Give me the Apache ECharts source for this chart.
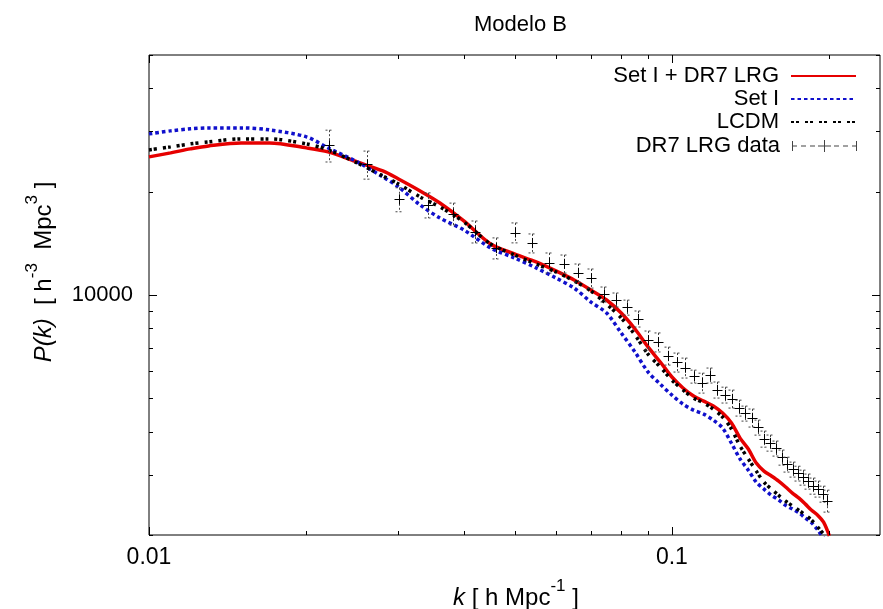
<!DOCTYPE html>
<html><head><meta charset="utf-8">
<script src="https://cdn.jsdelivr.net/npm/echarts@6/dist/echarts.min.js"></script>
<style>html,body{margin:0;padding:0;background:#fff}#c{width:883px;height:609px}</style>
</head><body><div id="c"></div>
<script>
// ---- data ----
const curveK = [0.010,0.011,0.012,0.013,0.015,0.017,0.020,0.022,0.025,0.028,0.030,0.033,0.036,0.040,0.045,0.050,0.055,0.060,0.065,0.070,0.075,0.080,0.085,0.090,0.095,0.100,0.105,0.110,0.115,0.120,0.125,0.130,0.135,0.140,0.145,0.150,0.155,0.160,0.165,0.170,0.175,0.180,0.185,0.190,0.195,0.200];
const setIplusDR7 = [25250,25940,26640,27180,27730,27730,26820,26110,24410,22980,21780,20100,18540,16430,14080,13170,12480,11750,11060,10340,9670,8860,7960,7060,6380,5770,5360,5080,4910,4750,4530,4240,3830,3560,3240,3070,2970,2870,2760,2650,2560,2460,2360,2285,2180,1990];
const setI = [29460,30060,30470,30670,30670,30260,28880,26820,24420,22080,20640,18290,16760,15470,13710,12820,11990,11210,10480,9540,8860,7750,6820,5970,5500,5110,4810,4620,4500,4320,4100,3700,3330,3090,2850,2720,2610,2530,2440,2380,2320,2240,2170,2070,1960,null];
const lcdm = [26460,27000,27550,27920,28490,28490,27550,26460,24250,22220,21060,19300,18050,16320,14080,13080,12310,11670,10990,10270,9410,8570,7650,6730,6170,5650,5290,5010,4850,4650,4410,4070,3630,3330,3070,2850,2720,2610,2510,2430,2360,2285,2210,2110,2015,1930];

const dataK = [0.0221,0.0261,0.0301,0.0341,0.0381,0.0421,0.0461,0.0501,0.0541,0.0581,0.0621,0.0661,0.0701,0.0741,0.0781,0.0821,0.0861,0.0901,0.0941,0.0981,0.1021,0.1061,0.1101,0.1141,0.1181,0.1221,0.1261,0.1301,0.1341,0.1381,0.1421,0.1461,0.1501,0.1541,0.1581,0.1621,0.1661,0.1701,0.1741,0.1781,0.1821,0.1861,0.1901,0.1941,0.1981];
const dataP = [27300,24000,19000,18300,17250,15300,13700,15200,14160,12420,12330,11610,11190,10045,9680,9200,8525,7384,7290,6650,6370,6140,5790,5550,5834,5295,5118,4985,4690,4520,4390,4115,3810,3710,3575,3365,3210,3105,3022,2942,2865,2780,2725,2634,2517];
const dataErr = [2900,2250,1525,1535,1270,1125,965,1015,900,835,745,700,715,505,455,463,458,470,464,400,405,410,252,370,293,285,272,300,250,227,265,207,205,200,180,170,160,156,150,148,145,150,146,141,185];

const xTicks = [0.01,0.02,0.03,0.04,0.05,0.06,0.07,0.08,0.09,0.1,0.2];
const xMajorTicks = [0.01,0.1];
const yTicks = [2000,3000,4000,5000,6000,7000,8000,9000,10000,20000,30000,40000,50000];
const yMajorTicks = [10000];
const xRange = [0.01, 0.25];
const yRange = [2000, 50000];

const names = ['Set I + DR7 LRG', 'Set I', 'LCDM', 'DR7 LRG data'];
// ----------------------------------------------

const FONT = "'Liberation Sans', Arial, Helvetica, sans-serif";
const chart = echarts.init(document.getElementById('c'), null, {renderer: 'canvas'});

function pairs(arr) {
  const out = [];
  curveK.forEach((k, i) => { if (arr[i] != null) out.push([k, arr[i]]); });
  return out;
}
function decadeLabel(v) {
  const l = Math.log10(v);
  if (Math.abs(l - Math.round(l)) < 1e-6) return String(Number(Math.pow(10, Math.round(l)).toPrecision(6)));
  return '';
}

const dataIcon = 'path://M0,2h1v10h-1z M1,6.5h4v1h-4z M9,6.5h5v1h-5z M18,6.5h5v1h-5z M26,6.5h13v1h-13z M32,1h1v12h-1z M42,6.5h5v1h-5z M51,6.5h5v1h-5z M60,6.5h4v1h-4z M64,2h1v10h-1z';

function legendFor(i, top) {
  const lg = {
    data: [i === 3 ? {name: names[i], icon: dataIcon} : {name: names[i]}],
    right: 21, top: top, align: 'right', orient: 'vertical',
    itemWidth: 65, itemHeight: 14, selectedMode: false,
    textStyle: {fontSize: 22, color: '#000', fontFamily: FONT, padding: [0, 7, 0, 0]}
  };
  if (i !== 3) lg.itemStyle = {opacity: 0, color: 'rgba(0,0,0,0)', borderWidth: 0};
  return lg;
}

const axisRich = {
  i: {fontSize: 24, fontStyle: 'italic', fontFamily: FONT, fill: '#000', lineHeight: 32, verticalAlign: 'bottom'},
  n: {fontSize: 24, fontFamily: FONT, fill: '#000', lineHeight: 32, verticalAlign: 'bottom'},
  s: {fontSize: 17, fontFamily: FONT, fill: '#000', lineHeight: 32, verticalAlign: 'top'}
};

const option = {
  backgroundColor: '#fff',
  animation: false,
  title: {text: 'Modelo B', left: 469, top: 9,
    textStyle: {fontSize: 22, fontWeight: 'normal', color: '#000', fontFamily: FONT}},
  legend: [legendFor(0, 60), legendFor(1, 83), legendFor(2, 106), legendFor(3, 130)],
  grid: {left: 149, top: 55, width: 742, height: 480, show: true, borderColor: '#000', borderWidth: 1, containLabel: false},
  xAxis: {type: 'log', logBase: 10, min: xRange[0], max: xRange[1],
    axisLine: {show: false}, axisTick: {show: false}, splitLine: {show: false}, minorTick: {show: false},
    axisLabel: {formatter: decadeLabel, fontSize: 23, color: '#000', fontFamily: FONT, margin: 11, showMinLabel: true, showMaxLabel: true}},
  yAxis: {type: 'log', logBase: 10, min: yRange[0], max: yRange[1],
    axisLine: {show: false}, axisTick: {show: false}, splitLine: {show: false}, minorTick: {show: false},
    axisLabel: {formatter: decadeLabel, fontSize: 22, color: '#000', fontFamily: FONT, margin: 16}},
  graphic: [
    {type: 'text', x: 40, y: 272, rotation: Math.PI / 2,
      style: {text: '{i|P(k)}{n|  [ h}{s|-3}{n|  Mpc}{s|3}{n| ]}', align: 'center', verticalAlign: 'middle', rich: axisRich}},
    {type: 'text', x: 516, y: 594,
      style: {text: '{i|k}{n| [ h Mpc}{s|-1}{n| ]}', align: 'center', verticalAlign: 'middle', rich: axisRich}}
  ],
  series: [
    {name: names[0], type: 'line', data: pairs(setIplusDR7), symbol: 'none', smooth: 0.3, z: 2,
      lineStyle: {color: '#e60000', width: 3.5}, itemStyle: {color: '#e60000'}},
    {name: names[1], type: 'line', data: pairs(setI), symbol: 'none', smooth: 0.3, z: 3,
      lineStyle: {color: '#1010cc', width: 3.5, type: [3.5, 3]}, itemStyle: {color: '#1010cc'}},
    {name: names[2], type: 'line', data: pairs(lcdm), symbol: 'none', smooth: 0.3, z: 4,
      lineStyle: {color: '#000', width: 3.5, type: [3, 2, 3, 6]}, itemStyle: {color: '#000'}},
    {name: names[3], type: 'custom', z: 5, clip: true,
      data: dataK.map((k, i) => [k, dataP[i], dataErr[i]]),
      itemStyle: {color: '#444'},
      renderItem: function (params, api) {
        const k = api.value(0), p = api.value(1), e = api.value(2);
        const c = api.coord([k, p]), t = api.coord([k, p + e]), b = api.coord([k, p - e]);
        const x = Math.round(c[0]) + 0.5;
        const cw = 4, pw = 5;
        const st = {stroke: '#444', lineWidth: 1, lineDash: [2, 2], fill: null};
        const sp = {stroke: '#000', lineWidth: 1, fill: null};
        return {type: 'group', children: [
          {type: 'line', shape: {x1: x, y1: t[1], x2: x, y2: b[1]}, style: st},
          {type: 'line', shape: {x1: x - cw, y1: t[1], x2: x + cw, y2: t[1]}, style: st},
          {type: 'line', shape: {x1: x - cw, y1: b[1], x2: x + cw, y2: b[1]}, style: st},
          {type: 'line', shape: {x1: x - pw, y1: Math.round(c[1]) + 0.5, x2: x + pw, y2: Math.round(c[1]) + 0.5}, style: sp},
          {type: 'line', shape: {x1: x, y1: c[1] - pw, x2: x, y2: c[1] + pw}, style: sp}
        ]};
      }},
    {name: 'xticks', type: 'custom', z: 6, silent: true,
      data: xTicks.map(v => [v, yRange[0]]),
      renderItem: function (params, api) {
        const cs = params.coordSys;
        const v = api.value(0);
        const x = Math.round(api.coord([v, yRange[0]])[0]) + 0.5;
        const len = xMajorTicks.indexOf(v) >= 0 ? 8 : 4;
        const st = {stroke: '#000', lineWidth: 1};
        return {type: 'group', children: [
          {type: 'line', shape: {x1: x, y1: cs.y + cs.height, x2: x, y2: cs.y + cs.height - len}, style: st},
          {type: 'line', shape: {x1: x, y1: cs.y, x2: x, y2: cs.y + len}, style: st}
        ]};
      }},
    {name: 'yticks', type: 'custom', z: 6, silent: true,
      data: yTicks.map(v => [xRange[0], v]),
      renderItem: function (params, api) {
        const cs = params.coordSys;
        const v = api.value(1);
        const y = Math.round(api.coord([xRange[0], v])[1]) + 0.5;
        const len = yMajorTicks.indexOf(v) >= 0 ? 8 : 4;
        const st = {stroke: '#000', lineWidth: 1};
        return {type: 'group', children: [
          {type: 'line', shape: {x1: cs.x, y1: y, x2: cs.x + len, y2: y}, style: st},
          {type: 'line', shape: {x1: cs.x + cs.width, y1: y, x2: cs.x + cs.width - len, y2: y}, style: st}
        ]};
      }}
  ]
};
chart.setOption(option);
</script>
</body></html>
